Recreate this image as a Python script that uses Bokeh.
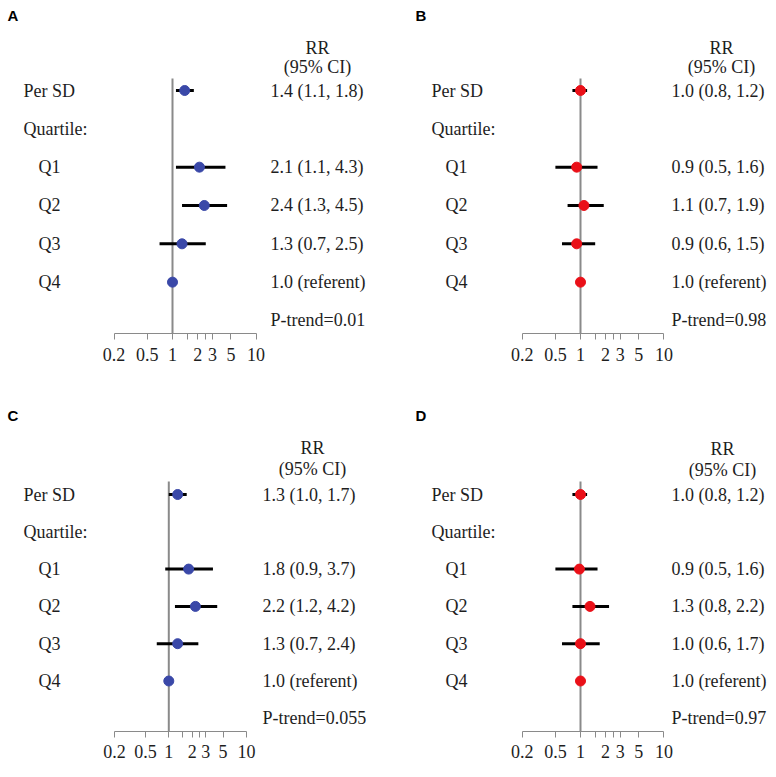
from bokeh.plotting import figure
from bokeh.layouts import row, column
from bokeh.models import Range1d, LogAxis, FixedTicker, CustomJSTickFormatter, ColumnDataSource
from bokeh.core.properties import value
from bokeh.embed import file_html
from bokeh.resources import INLINE

NAN = float("nan")

# ---------------- data ----------------
row_names = ["Per SD", "Quartile:", "Q1", "Q2", "Q3", "Q4"]
mark_rows = [0, 2, 3, 4, 5]          # rows (index into row_names) that carry an estimate

tick_values = [0.2, 0.5, 1, 1.5, 2, 2.5, 3, 5, 10]
tick_labels = ["0.2", "0.5", "1", "", "2", "", "3", "5", "10"]

a_est = [1.4, 2.1, 2.4, 1.3, 1.0]
a_lo = [1.1, 1.1, 1.3, 0.7, NAN]
a_hi = [1.8, 4.3, 4.5, 2.5, NAN]
a_txt = ["1.4 (1.1, 1.8)", "2.1 (1.1, 4.3)", "2.4 (1.3, 4.5)", "1.3 (0.7, 2.5)", "1.0 (referent)"]
a_ptrend = "P-trend=0.01"

b_est = [1.0, 0.9, 1.1, 0.9, 1.0]
b_lo = [0.8, 0.5, 0.7, 0.6, NAN]
b_hi = [1.2, 1.6, 1.9, 1.5, NAN]
b_txt = ["1.0 (0.8, 1.2)", "0.9 (0.5, 1.6)", "1.1 (0.7, 1.9)", "0.9 (0.6, 1.5)", "1.0 (referent)"]
b_ptrend = "P-trend=0.98"

c_est = [1.3, 1.8, 2.2, 1.3, 1.0]
c_lo = [1.0, 0.9, 1.2, 0.7, NAN]
c_hi = [1.7, 3.7, 4.2, 2.4, NAN]
c_txt = ["1.3 (1.0, 1.7)", "1.8 (0.9, 3.7)", "2.2 (1.2, 4.2)", "1.3 (0.7, 2.4)", "1.0 (referent)"]
c_ptrend = "P-trend=0.055"

d_est = [1.0, 0.97, 1.3, 1.0, 1.0]
d_lo = [0.8, 0.5, 0.8, 0.6, NAN]
d_hi = [1.2, 1.6, 2.2, 1.7, NAN]
d_txt = ["1.0 (0.8, 1.2)", "0.9 (0.5, 1.6)", "1.3 (0.8, 2.2)", "1.0 (0.6, 1.7)", "1.0 (referent)"]
d_ptrend = "P-trend=0.97"

BLUE = "#3a48a8"
RED = "#ea1018"
TXT = "#1e1e1e"
GREY = "#8a8a8a"
SERIF = "Liberation Serif"


def make_panel(letter, est, lo, hi, txt, ptrend, color, L):
    W, H, ox, oy = L["w"], L["h"], L["ox"], L["oy"]
    x1, ppd, r0, rh = L["x1"], L["ppd"], L["row0"], L["rowh"]

    def xv(sx):
        return 10 ** ((sx - x1) / ppd)

    def yv(sy):
        return (sy - r0) / rh

    p = figure(width=W, height=H, x_axis_type="log",
               x_range=Range1d(xv(ox), xv(ox + W)),
               y_range=Range1d(yv(oy + H), yv(oy)),
               output_backend="svg", toolbar_location=None,
               x_axis_location=None, y_axis_location=None,
               min_border=0, outline_line_color=None)
    p.grid.visible = False
    p.background_fill_color = "white"

    axis_row = L["axis_row"]
    ax = LogAxis(bounds=(0.2, 10),
                 ticker=FixedTicker(ticks=tick_values, minor_ticks=[]),
                 formatter=CustomJSTickFormatter(
                     args=dict(vals=tick_values, labs=tick_labels),
                     code="for (let i = 0; i < vals.length; i++) {"
                          " if (Math.abs(vals[i] - tick) < 1e-9) return labs[i]; }"
                          " return '';"),
                 fixed_location=axis_row,
                 axis_line_color=GREY, axis_line_width=1,
                 major_tick_line_color=GREY, major_tick_line_width=1,
                 major_tick_in=0, major_tick_out=6,
                 minor_tick_line_color=None,
                 major_label_standoff=8,
                 major_label_text_font=SERIF,
                 major_label_text_font_size="18px",
                 major_label_text_color=TXT)
    p.add_layout(ax, "below")

    # reference line at RR = 1
    p.segment(x0=[1], x1=[1], y0=[yv(r0 - L["ref_top"])], y1=[axis_row],
              line_color=GREY, line_width=2)

    src = ColumnDataSource(dict(y=mark_rows, est=est, lo=lo, hi=hi))
    p.segment(x0="lo", x1="hi", y0="y", y1="y", source=src,
              line_color="black", line_width=3)
    p.scatter(x="est", y="y", source=src, size=10, marker="circle",
              fill_color=color, line_color=color)

    # left labels
    lx = [xv(L["lab_x"]) if i < 2 else xv(L["q_x"]) for i in range(len(row_names))]
    p.text(x=lx, y=list(range(len(row_names))), text=row_names,
           text_font=value(SERIF), text_font_size="18px", text_color=TXT,
           text_align="left", text_baseline="middle")

    # right column
    ny = mark_rows + [len(row_names)]
    p.text(x=[xv(L["num_x"])] * len(ny), y=ny, text=txt + [ptrend],
           text_font=value(SERIF), text_font_size="18px", text_color=TXT,
           text_align="left", text_baseline="middle")

    p.text(x=[xv(L["head_x"])] * 2,
           y=[yv(r0 - L["rr_dy"]), yv(r0 - L["ci_dy"])],
           text=["RR", "(95% CI)"],
           text_font=value(SERIF), text_font_size="18px", text_color=TXT,
           text_align="center", text_baseline="middle")

    p.text(x=[xv(L["let_x"])], y=[yv(r0 - L["let_dy"])], text=[letter],
           text_font=value("Liberation Sans"), text_font_style="bold",
           text_font_size="15px", text_color="black",
           text_align="left", text_baseline="middle")
    return p


TOP_H, BOT_H = 390, 371
LEFT_W, RIGHT_W = 408, 360

LA = dict(w=LEFT_W, h=TOP_H, ox=0, oy=0, x1=172, ppd=83.6, row0=90, rowh=38.33,
          axis_row=6.35, ref_top=12, lab_x=23, q_x=38, num_x=270, head_x=317,
          rr_dy=43, ci_dy=24, let_x=7, let_dy=75)
LB = dict(w=RIGHT_W, h=TOP_H, ox=LEFT_W, oy=0, x1=580, ppd=83.4, row0=90, rowh=38.33,
          axis_row=6.35, ref_top=12, lab_x=431, q_x=445, num_x=671, head_x=721,
          rr_dy=43, ci_dy=24, let_x=415, let_dy=75)
LC = dict(w=LEFT_W, h=BOT_H, ox=0, oy=TOP_H, x1=168.3, ppd=77.7, row0=494, rowh=37.3,
          axis_row=6.35, ref_top=13, lab_x=23, q_x=38, num_x=262, head_x=312,
          rr_dy=47, ci_dy=26, let_x=7, let_dy=79)
LD = dict(w=RIGHT_W, h=BOT_H, ox=LEFT_W, oy=TOP_H, x1=580, ppd=83.4, row0=494, rowh=37.3,
          axis_row=6.35, ref_top=13, lab_x=431, q_x=445, num_x=671, head_x=722,
          rr_dy=46, ci_dy=25, let_x=415, let_dy=79)

pa = make_panel("A", a_est, a_lo, a_hi, a_txt, a_ptrend, BLUE, LA)
pb = make_panel("B", b_est, b_lo, b_hi, b_txt, b_ptrend, RED, LB)
pc = make_panel("C", c_est, c_lo, c_hi, c_txt, c_ptrend, BLUE, LC)
pd = make_panel("D", d_est, d_lo, d_hi, d_txt, d_ptrend, RED, LD)

layout = column(row(pa, pb), row(pc, pd))
open("out.html", "w").write(file_html(layout, INLINE))
